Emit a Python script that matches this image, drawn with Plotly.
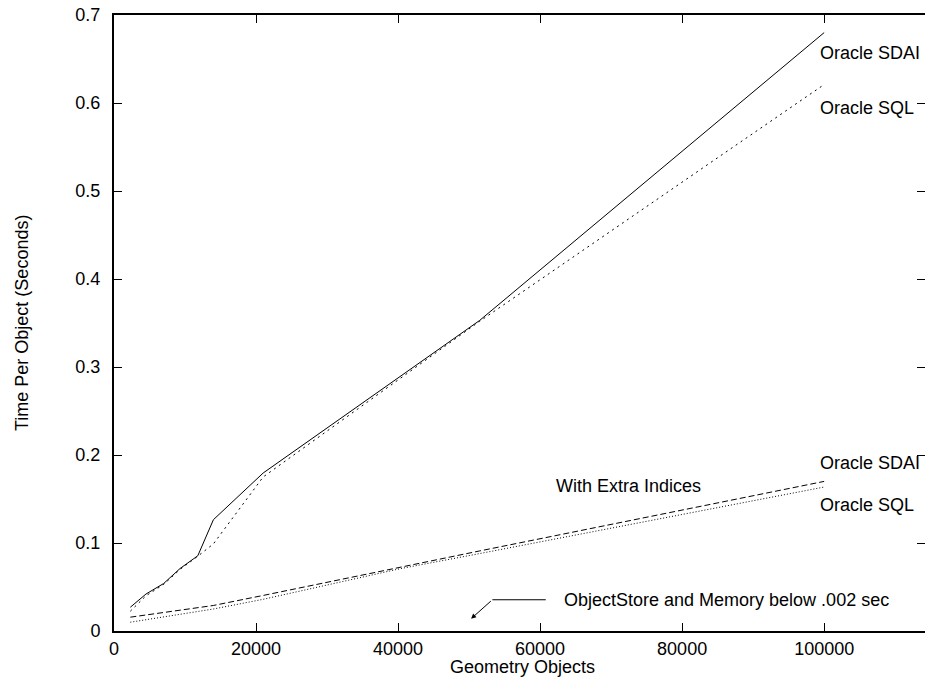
import plotly.graph_objects as go

# Data
x_main = [2300, 4500, 7000, 9300, 11800, 14000, 21000, 51500, 100000]
oracle_sdai = [0.027, 0.042, 0.054, 0.071, 0.0855, 0.1265, 0.1795, 0.353, 0.680]
oracle_sql = [0.0225, 0.040, 0.053, 0.070, 0.085, 0.099, 0.175, 0.352, 0.621]

x_idx = [2300, 14000, 21000, 40280, 51500, 100000]
oracle_sdai_idx = [0.0157, 0.029, 0.0404, 0.0726, 0.091, 0.170]
oracle_sql_idx = [0.010, 0.025, 0.036, 0.0708, 0.088, 0.1636]

x_ticks = [0, 20000, 40000, 60000, 80000, 100000]
y_ticks = [0, 0.1, 0.2, 0.3, 0.4, 0.5, 0.6, 0.7]

FONT = "Liberation Sans, Arial, Helvetica, sans-serif"
X_MAX = 114200

fig = go.Figure()
fig.add_trace(go.Scatter(x=x_main, y=oracle_sdai, mode="lines",
                         line=dict(color="black", width=1)))
fig.add_trace(go.Scatter(x=x_main, y=oracle_sql, mode="lines",
                         line=dict(color="black", width=1, dash="2px,4px")))
fig.add_trace(go.Scatter(x=x_idx, y=oracle_sdai_idx, mode="lines",
                         line=dict(color="black", width=1, dash="6px,3px")))
fig.add_trace(go.Scatter(x=x_idx, y=oracle_sql_idx, mode="lines",
                         line=dict(color="black", width=1, dash="1px,2px")))
# arrow leader line
fig.add_trace(go.Scatter(x=[60800, 53280], y=[0.0355, 0.0355], mode="lines",
                         line=dict(color="black", width=1)))
# dummy trace for right-side ticks
fig.add_trace(go.Scatter(x=[None], y=[None], yaxis="y2", mode="lines"))

labels = [
    ("Oracle SDAI", 99150, 0.657),
    ("Oracle SQL", 99150, 0.594),
    ("Oracle SDAI", 99150, 0.191),
    ("Oracle SQL", 99150, 0.143),
    ("With Extra Indices", 61900, 0.1644),
    ("ObjectStore and Memory below .002 sec", 63050, 0.0348),
]
ann = []
for t, x, y in labels:
    ann.append(dict(text=t, x=x, y=y, xref="x", yref="y", xanchor="left",
                    yanchor="middle", showarrow=False,
                    font=dict(family=FONT, size=18, color="black")))
ann.append(dict(text="", x=50280, y=0.0139, ax=53280, ay=0.0355,
                xref="x", yref="y", axref="x", ayref="y", showarrow=True,
                arrowhead=2, arrowsize=1, arrowwidth=1, arrowcolor="black",
                standoff=0, startstandoff=0))
ann.append(dict(text="Time Per Object (Seconds)", x=22, y=323, xref="paper",
                yref="paper", showarrow=False, textangle=-90,
                font=dict(family=FONT, size=18, color="black")))
ann.append(dict(text="Geometry Objects", x=522, y=667, xref="paper",
                yref="paper", showarrow=False,
                font=dict(family=FONT, size=18, color="black")))

# convert paper annotations from pixels
L, R, T, B = 114, 0, 15, 51
W, H = 925, 682
pw, ph = W - L - R, H - T - B
for a in ann:
    if a.get("xref") == "paper":
        a["x"] = (a["x"] - L) / pw
        a["y"] = (H - B - a["y"]) / ph
        a["xanchor"] = "center"
        a["yanchor"] = "middle"

fig.update_layout(
    width=W, height=H, margin=dict(l=L, r=R, t=T, b=B),
    paper_bgcolor="white", plot_bgcolor="white", showlegend=False,
    font=dict(family=FONT, size=18, color="black"),
    xaxis=dict(range=[0, X_MAX], tickvals=x_ticks, ticktext=[str(v) for v in x_ticks],
               showgrid=False, zeroline=False, showline=True, linecolor="black",
               linewidth=2, mirror="ticks", ticks="inside", ticklen=8,
               tickwidth=1, tickcolor="black"),
    yaxis=dict(range=[0, 0.7], tickvals=y_ticks, ticktext=[str(v) for v in y_ticks],
               showgrid=False, zeroline=False, showline=True, linecolor="black",
               linewidth=2, mirror=False, ticks="inside", ticklen=8,
               tickwidth=1, tickcolor="black", ticklabelstandoff=8),
    yaxis2=dict(range=[0, 0.7], tickvals=y_ticks, overlaying="y", side="right",
                showgrid=False, zeroline=False, showline=False, ticks="inside",
                ticklen=8, tickwidth=1, tickcolor="black", showticklabels=False),
    annotations=ann,
)

fig.write_html("out.html")
